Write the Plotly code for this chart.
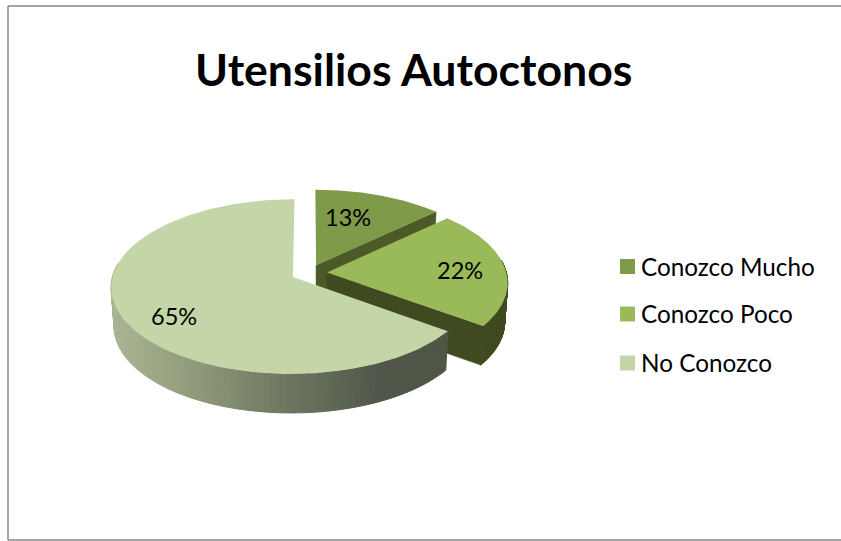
import numpy as np
import plotly.graph_objects as go

# Chart content
chart_title = "Utensilios Autoctonos"
categories = ["Conozco Mucho", "Conozco Poco", "No Conozco"]
percentages = [13, 22, 65]

# Slice colours
top_colors = ["#7f9a48", "#9aba59", "#c4d5a8"]
face_colors = ["#4b5a27", "#3f4a20", "#4f5646"]

# Horizontal shading of the large slice's outer wall
wall_stop_x = [113, 200, 290, 380, 445]
wall_stop_rgb = [(169, 181, 146), (141, 152, 120), (109, 117, 96), (80, 87, 74), (79, 86, 70)]

# Projection of the tilted pie onto the canvas (all lengths in canvas pixels)
CX, CY = 309.0, 273.0
RADIUS = 179.5
TILT = 0.476
PERSPECTIVE = 0.11 / RADIUS
EXPLODE = 18.0
DEPTH = 39.0
BASE_SHRINK = 0.985


def project(x, y):
    f = 1.0 / (1.0 - PERSPECTIVE * y)
    return CX + x * f, CY + TILT * y * f


def to_base(sx, sy):
    return CX + (sx - CX) * BASE_SHRINK, sy + DEPTH


def wall_color(sx):
    channels = [np.interp(sx, wall_stop_x, [c[i] for c in wall_stop_rgb]) for i in range(3)]
    return "rgb({:.0f},{:.0f},{:.0f})".format(*channels)


def polygon(xs, ys, color, outline=0.0):
    return go.Scatter(
        x=list(xs) + [xs[0]], y=list(ys) + [ys[0]],
        mode="lines", fill="toself", fillcolor=color,
        line=dict(color=color, width=outline),
        hoverinfo="skip", showlegend=False,
    )


fig = go.Figure()

# Slices go back to front so the nearer ones overlap the farther ones
edges = np.concatenate([[0.0], np.cumsum(percentages)]) / sum(percentages) * 2 * np.pi
for i, name in enumerate(categories):
    start, end = edges[i], edges[i + 1]
    mid = (start + end) / 2
    ox, oy = EXPLODE * np.sin(mid), -EXPLODE * np.cos(mid)
    angles = np.linspace(start, end, 160)
    px, py = project(ox + RADIUS * np.sin(angles), oy - RADIUS * np.cos(angles))
    ax, ay = project(ox, oy)

    # Radial cut face on the closing edge, where it turns toward the viewer
    if end < np.pi:
        xs = np.array([ax, px[-1]])
        ys = np.array([ay, py[-1]])
        bx, by = to_base(xs, ys)
        fig.add_trace(polygon([xs[0], xs[1], bx[1], bx[0]], [ys[0], ys[1], by[1], by[0]], face_colors[i], 0.5))

    # Outer wall, built from narrow strips on the viewer's side
    bx, by = to_base(px, py)
    for j in range(len(angles) - 1):
        if np.cos(angles[j]) > 0.15:
            continue
        color = wall_color((px[j] + px[j + 1]) / 2) if i == 2 else face_colors[i]
        fig.add_trace(polygon(
            [px[j], px[j + 1], bx[j + 1], bx[j]],
            [py[j], py[j + 1], by[j + 1], by[j]], color, 1.0,
        ))

    # Top surface
    fig.add_trace(polygon(np.append(px, ax), np.append(py, ay), top_colors[i]))

# Legend swatches and names
legend_rows = [266.5, 314, 363]
for name, color, row in zip(categories, top_colors, legend_rows):
    fig.add_trace(go.Scatter(
        x=[627.5], y=[row], mode="markers", name=name, showlegend=False,
        marker=dict(symbol="square", size=15, color=color),
        hoverinfo="skip",
    ))
    fig.add_annotation(x=642, y=row - 0.5, text=name, showarrow=False, xanchor="left",
                       xshift=-3, font=dict(family="Lato", size=24.3, color="#000000"))

# Percentage labels
label_xy = [(348, 217), (460, 270), (174, 316)]
for (lx, ly), value in zip(label_xy, percentages):
    fig.add_annotation(x=lx, y=ly, text=f"{value}%", showarrow=False,
                       font=dict(family="Lato", size=23.5, color="#000000"))

fig.add_annotation(x=413, y=68, text=f"<b>{chart_title}</b>", showarrow=False,
                   font=dict(family="Lato", size=44.6, color="#000000"))

# Chart area frame
for x0, y0, x1, y1 in [(8, 6, 841, 6), (8, 6, 8, 540), (8, 540, 841, 540)]:
    fig.add_shape(type="line", x0=x0, y0=y0, x1=x1, y1=y1,
                  line=dict(color="#868686", width=1.5))

fig.update_layout(
    width=841, height=541,
    margin=dict(l=0, r=0, t=0, b=0),
    paper_bgcolor="#ffffff", plot_bgcolor="#ffffff",
    xaxis=dict(range=[0, 841], visible=False, fixedrange=True),
    yaxis=dict(range=[541, 0], visible=False, fixedrange=True),
    showlegend=False,
)

fig.write_html("out.html")
